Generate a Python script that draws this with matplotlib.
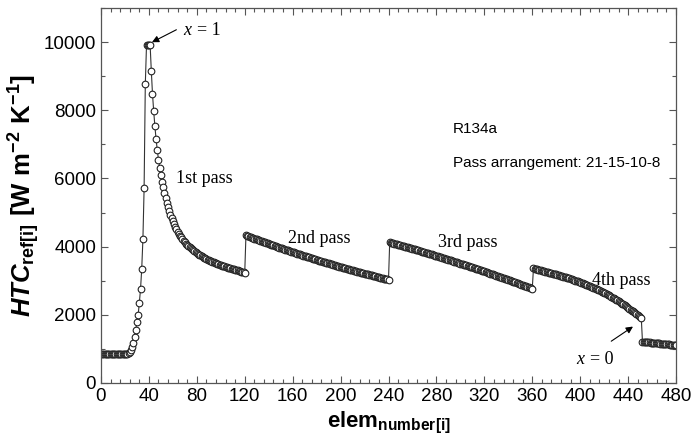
import numpy as np
import matplotlib
matplotlib.use("Agg")
import matplotlib.pyplot as plt
from matplotlib.ticker import MultipleLocator

# Fonts: Arial-like sans for axes, Times-like serif for the pass notes.
plt.rcParams['font.family'] = ['Liberation Sans', 'DejaVu Sans']
plt.rcParams['mathtext.fontset'] = 'custom'
plt.rcParams['mathtext.rm'] = 'Liberation Sans:bold'
plt.rcParams['mathtext.it'] = 'Liberation Sans:bold:italic'
plt.rcParams['mathtext.bf'] = 'Liberation Sans:bold'

# Element numbers of each pass (one marker per element).
elem_pass1 = np.arange(1, 121)
elem_pass2 = np.arange(121, 241)
elem_pass3 = np.arange(241, 361)
elem_pass4 = np.arange(361, 452)
elem_subcool = np.arange(452, 481)

# HTC values [W m-2 K-1].
htc_pass1 = [
    860, 860, 860, 860, 860, 860, 860, 860, 860, 860,
    860, 860, 860, 860, 860, 860, 860, 860, 860, 860, 860,
    860, 870, 900, 960, 1060, 1180, 1350, 1550, 1790, 1990,
    2350, 2750, 3340, 4220, 5720, 8770, 9910, 9920, 9930, 9930,
    9160, 8480, 7970, 7530, 7150, 6830, 6550, 6310, 6100, 5910,
    5740, 5580, 5430, 5290, 5160, 5040, 4930, 4830, 4740, 4660,
    4580, 4510, 4440, 4380, 4320, 4270, 4220, 4170, 4130, 4090,
    4050, 4010, 3980, 3950, 3920, 3890, 3860, 3830, 3810, 3780,
    3760, 3740, 3720, 3700, 3680, 3660, 3640, 3620, 3610, 3590,
    3570, 3560, 3540, 3530, 3510, 3500, 3480, 3470, 3460, 3440,
    3430, 3420, 3410, 3390, 3380, 3370, 3360, 3350, 3340, 3330,
    3320, 3310, 3300, 3290, 3280, 3270, 3260, 3250, 3240,
]
htc_pass2 = [
    4330, 4317, 4304, 4291, 4278, 4265, 4252, 4238, 4225, 4212,
    4199, 4186, 4174, 4161, 4148, 4135, 4123, 4110, 4097, 4084,
    4072, 4059, 4047, 4035, 4023, 4010, 3998, 3986, 3974, 3961,
    3949, 3937, 3925, 3913, 3901, 3889, 3878, 3866, 3854, 3842,
    3830, 3818, 3807, 3795, 3784, 3772, 3761, 3749, 3738, 3726,
    3715, 3704, 3693, 3682, 3671, 3659, 3648, 3637, 3626, 3615,
    3604, 3593, 3583, 3572, 3561, 3550, 3540, 3529, 3518, 3507,
    3497, 3486, 3476, 3466, 3456, 3445, 3435, 3425, 3415, 3404,
    3394, 3384, 3374, 3364, 3354, 3344, 3335, 3325, 3315, 3305,
    3295, 3285, 3276, 3266, 3257, 3248, 3239, 3229, 3220, 3210,
    3201, 3192, 3183, 3173, 3164, 3155, 3146, 3136, 3127, 3118,
    3109, 3100, 3092, 3083, 3074, 3065, 3057, 3048, 3040, 3030,
]
htc_pass3 = [
    4130, 4120, 4110, 4100, 4090, 4080, 4071, 4061, 4051, 4041,
    4031, 4021, 4011, 4000, 3990, 3980, 3970, 3959, 3949, 3939,
    3929, 3918, 3908, 3897, 3887, 3877, 3867, 3856, 3846, 3835,
    3825, 3814, 3803, 3792, 3782, 3771, 3760, 3749, 3739, 3728,
    3717, 3706, 3695, 3684, 3673, 3662, 3651, 3640, 3629, 3618,
    3607, 3595, 3584, 3573, 3562, 3550, 3539, 3528, 3517, 3505,
    3494, 3482, 3471, 3459, 3447, 3435, 3424, 3412, 3400, 3388,
    3377, 3365, 3353, 3341, 3330, 3318, 3306, 3294, 3283, 3271,
    3259, 3246, 3234, 3222, 3210, 3197, 3185, 3173, 3161, 3148,
    3136, 3123, 3111, 3098, 3086, 3074, 3062, 3049, 3037, 3024,
    3012, 2999, 2987, 2974, 2961, 2948, 2936, 2923, 2910, 2897,
    2885, 2872, 2859, 2845, 2832, 2819, 2806, 2793, 2780, 2770,
]
htc_pass4 = [
    3360, 3351, 3342, 3333, 3324, 3315, 3305, 3296, 3287, 3278,
    3269, 3260, 3250, 3240, 3230, 3221, 3211, 3202, 3192, 3183,
    3173, 3163, 3152, 3141, 3130, 3120, 3109, 3098, 3087, 3077,
    3066, 3054, 3041, 3029, 3017, 3005, 2992, 2980, 2968, 2956,
    2943, 2929, 2914, 2900, 2885, 2871, 2857, 2843, 2828, 2814,
    2799, 2782, 2765, 2748, 2731, 2714, 2696, 2679, 2662, 2645,
    2628, 2608, 2587, 2567, 2546, 2526, 2506, 2486, 2465, 2445,
    2424, 2400, 2376, 2352, 2328, 2304, 2279, 2255, 2231, 2207,
    2183, 2155, 2126, 2098, 2070, 2042, 2013, 1985, 1957, 1929,
    1900,
]
htc_subcool = [
    1210, 1206, 1203, 1200, 1196, 1192, 1189, 1185, 1181, 1178,
    1174, 1170, 1167, 1164, 1160, 1156, 1153, 1150, 1146, 1142,
    1139, 1135, 1131, 1128, 1124, 1120, 1117, 1114, 1110,
]

elem = np.concatenate([elem_pass1, elem_pass2, elem_pass3, elem_pass4, elem_subcool])
htc = np.concatenate([htc_pass1, htc_pass2, htc_pass3, htc_pass4, htc_subcool])

fig = plt.figure(figsize=(6.95, 4.46), dpi=100)
ax = fig.add_axes([0.1453, 0.1413, 0.8274, 0.8407])

ax.plot(elem, htc, color='#333333', lw=0.8, marker='o', markersize=4.8,
        markerfacecolor='white', markeredgecolor='#222222', markeredgewidth=0.8)

ax.set_xlim(0, 480)
ax.set_ylim(0, 11000)
ax.xaxis.set_major_locator(MultipleLocator(40))
ax.xaxis.set_minor_locator(MultipleLocator(8))
ax.yaxis.set_major_locator(MultipleLocator(2000))
ax.yaxis.set_minor_locator(MultipleLocator(1000))
ax.tick_params(which='both', direction='in', top=True, right=True,
               color='#555555', labelsize=13.5)
ax.tick_params(which='major', length=5, width=0.8)
ax.tick_params(which='minor', length=3, width=0.8)
for s in ax.spines.values():
    s.set_color('#555555')
    s.set_linewidth(0.9)

ax.set_xlabel(r'$\mathrm{elem}_{\mathrm{number[i]}}$', fontsize=16, labelpad=4)
ax.set_ylabel(r'$\mathit{HTC}_{\mathrm{ref[i]}}\ \mathrm{[W\ m^{-2}\ K^{-1}]}$',
              fontsize=18.5, labelpad=1)

# Pass notes in serif
serif = ['Liberation Serif', 'DejaVu Serif']
ax.text(86, 6000, '1st pass', family=serif, fontsize=13, ha='center', va='center')
ax.text(182, 4240, '2nd pass', family=serif, fontsize=13, ha='center', va='center')
ax.text(306, 4115, '3rd pass', family=serif, fontsize=13, ha='center', va='center')
ax.text(434, 3020, '4th pass', family=serif, fontsize=13, ha='center', va='center')

# Quality markers
ax.annotate('', xy=(40.5, 9960), xytext=(65, 10400),
            arrowprops=dict(arrowstyle='-|>', color='black', lw=0.8, mutation_scale=10))
ax.text(69, 10330, 'x', family=serif, style='italic', fontsize=13, va='center')
ax.text(80.5, 10330, '= 1', family=serif, fontsize=13, va='center')

ax.annotate('', xy=(446, 1700), xytext=(424, 1180),
            arrowprops=dict(arrowstyle='-|>', color='black', lw=0.8, mutation_scale=10))
ax.text(397, 675, 'x', family=serif, style='italic', fontsize=13, va='center')
ax.text(408.5, 675, '= 0', family=serif, fontsize=13, va='center')

ax.text(294, 7450, 'R134a', fontsize=11, va='center')
ax.text(294, 6450, 'Pass arrangement: 21-15-10-8', fontsize=11, va='center')

fig.savefig('out.png', dpi=100)
